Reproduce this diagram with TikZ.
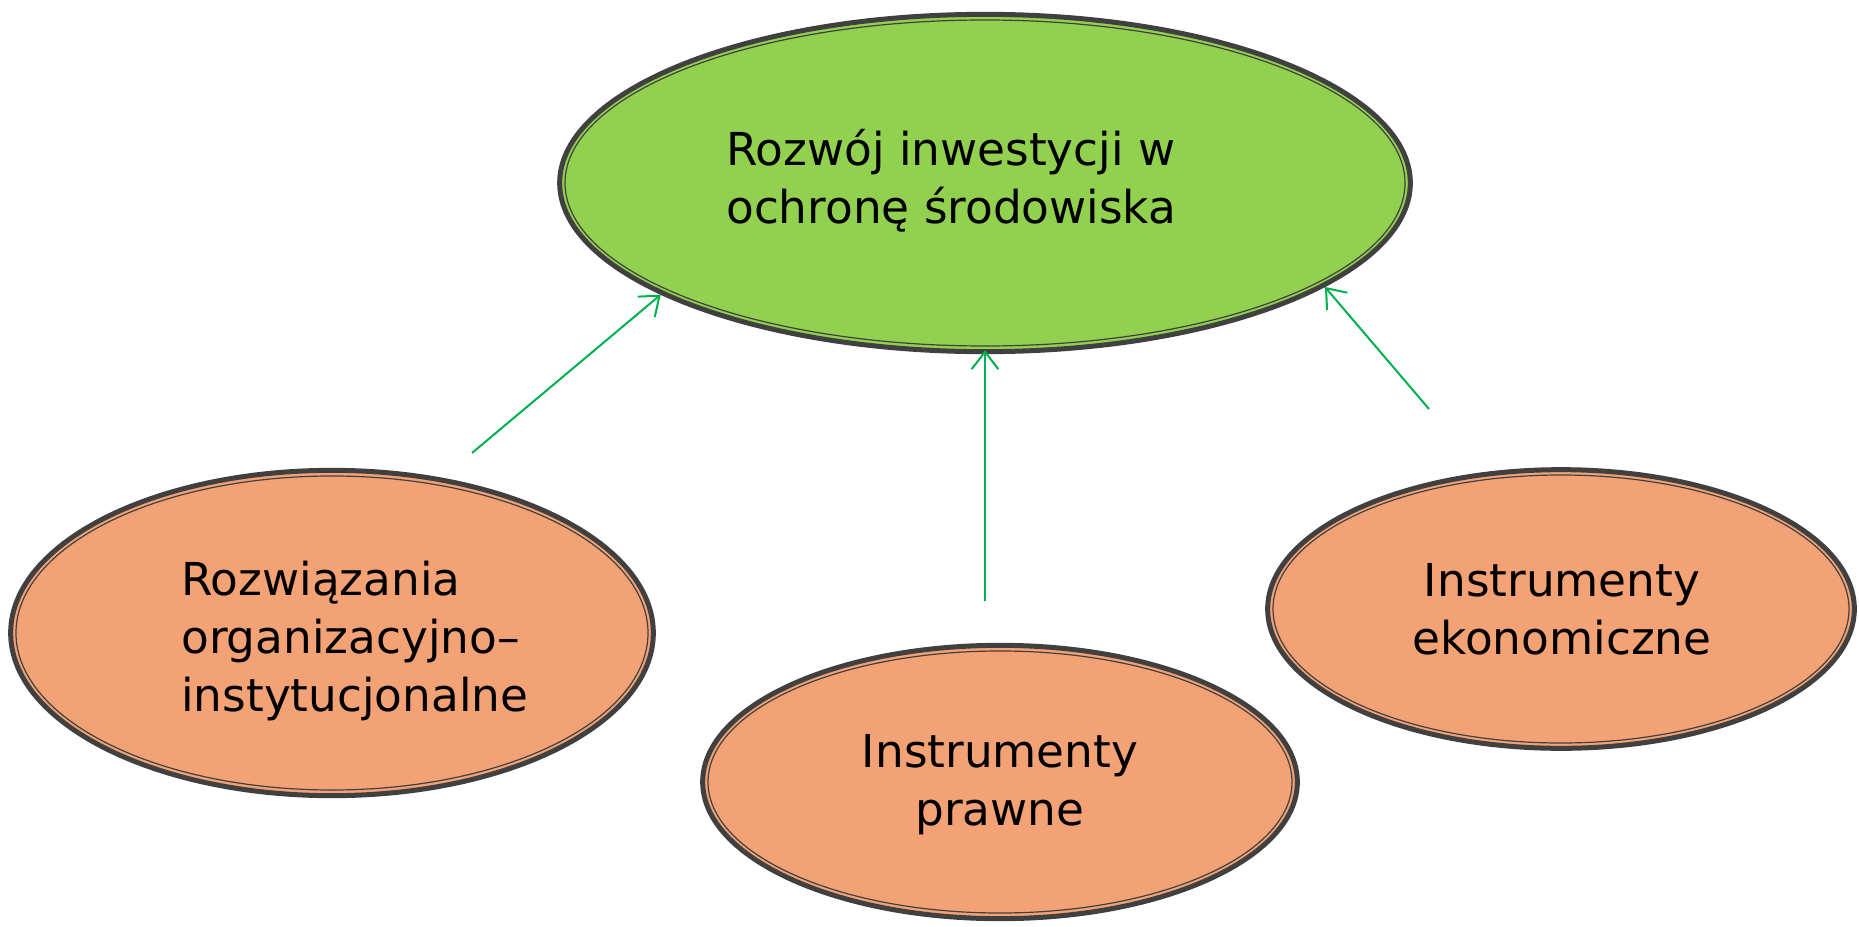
\documentclass[tikz,border=0pt]{standalone}
\usepackage{fontspec}
\setmainfont{DejaVu Sans}
\usetikzlibrary{shapes.geometric,arrows.meta}

\definecolor{cGoal}{RGB}{146,208,80}
\definecolor{cTool}{RGB}{243,162,118}
\definecolor{cRing}{RGB}{64,64,64}
\definecolor{cArrow}{RGB}{0,176,80}

\tikzset{
  oval/.style={ellipse, draw=cRing, line width=3.75pt, inner sep=0pt},
  ring/.style={draw=cRing, line width=0.9pt},
  lbl/.style={inner sep=0pt, font=\fontsize{34}{43.5}\selectfont},
  link/.style={draw=cArrow, line width=1.5pt, -{Straight Barb[length=13pt,width=20pt,line width=1.5pt]}}
}

\begin{document}
\begin{tikzpicture}[x=0.75pt,y=0.75pt,yscale=-1,xscale=1]
\useasboundingbox (0,0) rectangle (1859,927);

%Shape: Ellipse [goal]
\node (goal) [oval, fill=cGoal, minimum width=638pt, minimum height=253pt] at (985,183) {};
\draw [ring] (goal.center) ellipse [x radius=420, y radius=163];
%Shape: Ellipse [org]
\node (org) [oval, fill=cTool, minimum width=482pt, minimum height=244pt] at (332,633) {};
\draw [ring] (org.center) ellipse [x radius=316, y radius=157];
%Shape: Ellipse [law]
\node (law) [oval, fill=cTool, minimum width=446pt, minimum height=205pt] at (1000,782) {};
\draw [ring] (law.center) ellipse [x radius=292, y radius=131];
%Shape: Ellipse [eco]
\node (eco) [oval, fill=cTool, minimum width=440pt, minimum height=209pt] at (1561,609) {};
\draw [ring] (eco.center) ellipse [x radius=288, y radius=134];

% Text Node
\node (goal-txt) [lbl, align=left, anchor=west] at (726,181) {Rozwój inwestycji w\\ochronę środowiska};
% Text Node
\node (org-txt) [lbl, align=left, anchor=west] at (181,641) {Rozwiązania\\organizacyjno--\\instytucjonalne};
% Text Node
\node (law-txt) [lbl, align=center] at (1000,785) {Instrumenty\\prawne};
% Text Node
\node (eco-txt) [lbl, align=center] at (1562,609) {Instrumenty\\ekonomiczne};

%Straight Lines
\coordinate (org-end) at (472,453);
\coordinate (law-end) at (985,601);
\coordinate (eco-end) at (1429,409);
\draw [link] (org-end) -- (goal.199);
\draw [link, shorten >=-3pt] (law-end) -- (goal.south);
\draw [link] (eco-end) -- (goal.343);

\end{tikzpicture}
\end{document}
